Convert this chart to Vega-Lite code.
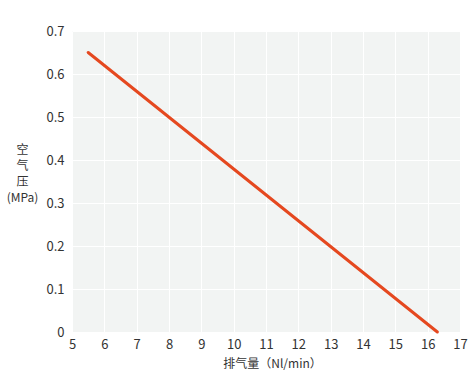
{
  "$schema": "https://vega.github.io/schema/vega-lite/v6.json",
  "width": 388,
  "height": 301,
  "autosize": {"type": "none"},
  "padding": {"left": 72, "top": 31, "right": 16, "bottom": 43},
  "background": "white",
  "config": {
    "view": {"fill": "#f2f4f3", "stroke": null},
    "font": "Noto Sans CJK SC",
    "axis": {
      "domain": false,
      "ticks": false,
      "labelFlush": false,
      "gridColor": "white",
      "gridWidth": 1,
      "labelColor": "#333333",
      "labelFontSize": 13,
      "labelFont": "Noto Sans CJK SC",
      "titleFont": "Noto Sans CJK SC",
      "titleColor": "#333333",
      "titleFontSize": 12,
      "titleFontWeight": "normal"
    }
  },
  "data": {"values": [{"flow": 5.5, "pressure": 0.65}, {"flow": 16.3, "pressure": 0.0}]},
  "mark": {"type": "line", "color": "#e5481f", "strokeWidth": 3, "strokeCap": "round"},
  "encoding": {
    "x": {
      "field": "flow", "type": "quantitative",
      "scale": {"domain": [5, 17], "nice": false, "zero": false},
      "axis": {"values": [5,6,7,8,9,10,11,12,13,14,15,16,17], "labelPadding": 6, "title": "排气量（Nl/min）", "titlePadding": 7, "titleX": 200, "titleAlign": "center"}
    },
    "y": {
      "field": "pressure", "type": "quantitative",
      "scale": {"domain": [0, 0.7], "nice": false},
      "axis": {
        "values": [0, 0.1, 0.2, 0.3, 0.4, 0.5, 0.6, 0.7],
        "format": ".1~f",
        "labelPadding": 8,
        "title": ["空", "气", "压", "(MPa)"],
        "titleAngle": 0,
        "titleAlign": "center",
        "titleBaseline": "top",
        "titleX": -50,
        "titleY": 113,
        "titleLineHeight": 16
      }
    }
  }
}
